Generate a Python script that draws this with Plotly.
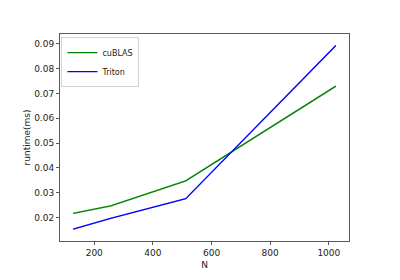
import plotly.graph_objects as go

N = [128, 256, 512, 1024]
cublas = [0.0217, 0.0247, 0.0348, 0.0729]
cublas_err = [0.0004, 0.0004, 0.0004, 0.0005]
triton = [0.01535, 0.0197, 0.0276, 0.0893]
triton_err = [0.0004, 0.0003, 0.0003, 0.0005]
x_ticks = [200, 400, 600, 800, 1000]
y_ticks = [0.02, 0.03, 0.04, 0.05, 0.06, 0.07, 0.08, 0.09]

fig = go.Figure()

def band(y, err, color):
    up = [a + e for a, e in zip(y, err)]
    lo = [a - e for a, e in zip(y, err)]
    fig.add_trace(go.Scatter(x=N, y=up, mode="lines", line=dict(width=0),
                             showlegend=False, hoverinfo="skip"))
    fig.add_trace(go.Scatter(x=N, y=lo, mode="lines", line=dict(width=0),
                             fill="tonexty", fillcolor=color,
                             showlegend=False, hoverinfo="skip"))

band(cublas, cublas_err, "rgba(0,128,0,0.2)")
band(triton, triton_err, "rgba(0,0,255,0.2)")

fig.add_trace(go.Scatter(x=N, y=cublas, mode="lines", name="cuBLAS",
                         line=dict(color="#008000", width=1.3)))
fig.add_trace(go.Scatter(x=N, y=triton, mode="lines", name="Triton",
                         line=dict(color="#0000ff", width=1.3)))

axis_common = dict(showgrid=False, zeroline=False, showline=True, mirror=True,
                   linecolor="rgb(90,90,90)", linewidth=1, ticks="outside",
                   ticklen=3, tickcolor="rgb(90,90,90)",
                   tickfont=dict(family="DejaVu Sans", size=9, color="#222"))

fig.update_layout(
    width=400, height=280,
    margin=dict(l=60, r=51, t=34, b=31),
    paper_bgcolor="white", plot_bgcolor="white",
    font=dict(family="DejaVu Sans", size=9, color="#222"),
    xaxis=dict(range=[83.2, 1068.8], tickvals=x_ticks,
               title=dict(text="N", font=dict(size=9), standoff=4), **axis_common),
    yaxis=dict(range=[0.01058, 0.0939], tickvals=y_ticks, tickformat=".2f",
               title=dict(text="runtime(ms)", font=dict(size=9), standoff=2), **axis_common),
    legend=dict(x=0.005, y=0.985, xanchor="left", yanchor="top",
                bgcolor="white", bordercolor="rgb(210,210,210)", borderwidth=1,
                font=dict(size=8), tracegroupgap=0, itemwidth=30,
                traceorder="normal"),
)

fig.write_html("out.html")
